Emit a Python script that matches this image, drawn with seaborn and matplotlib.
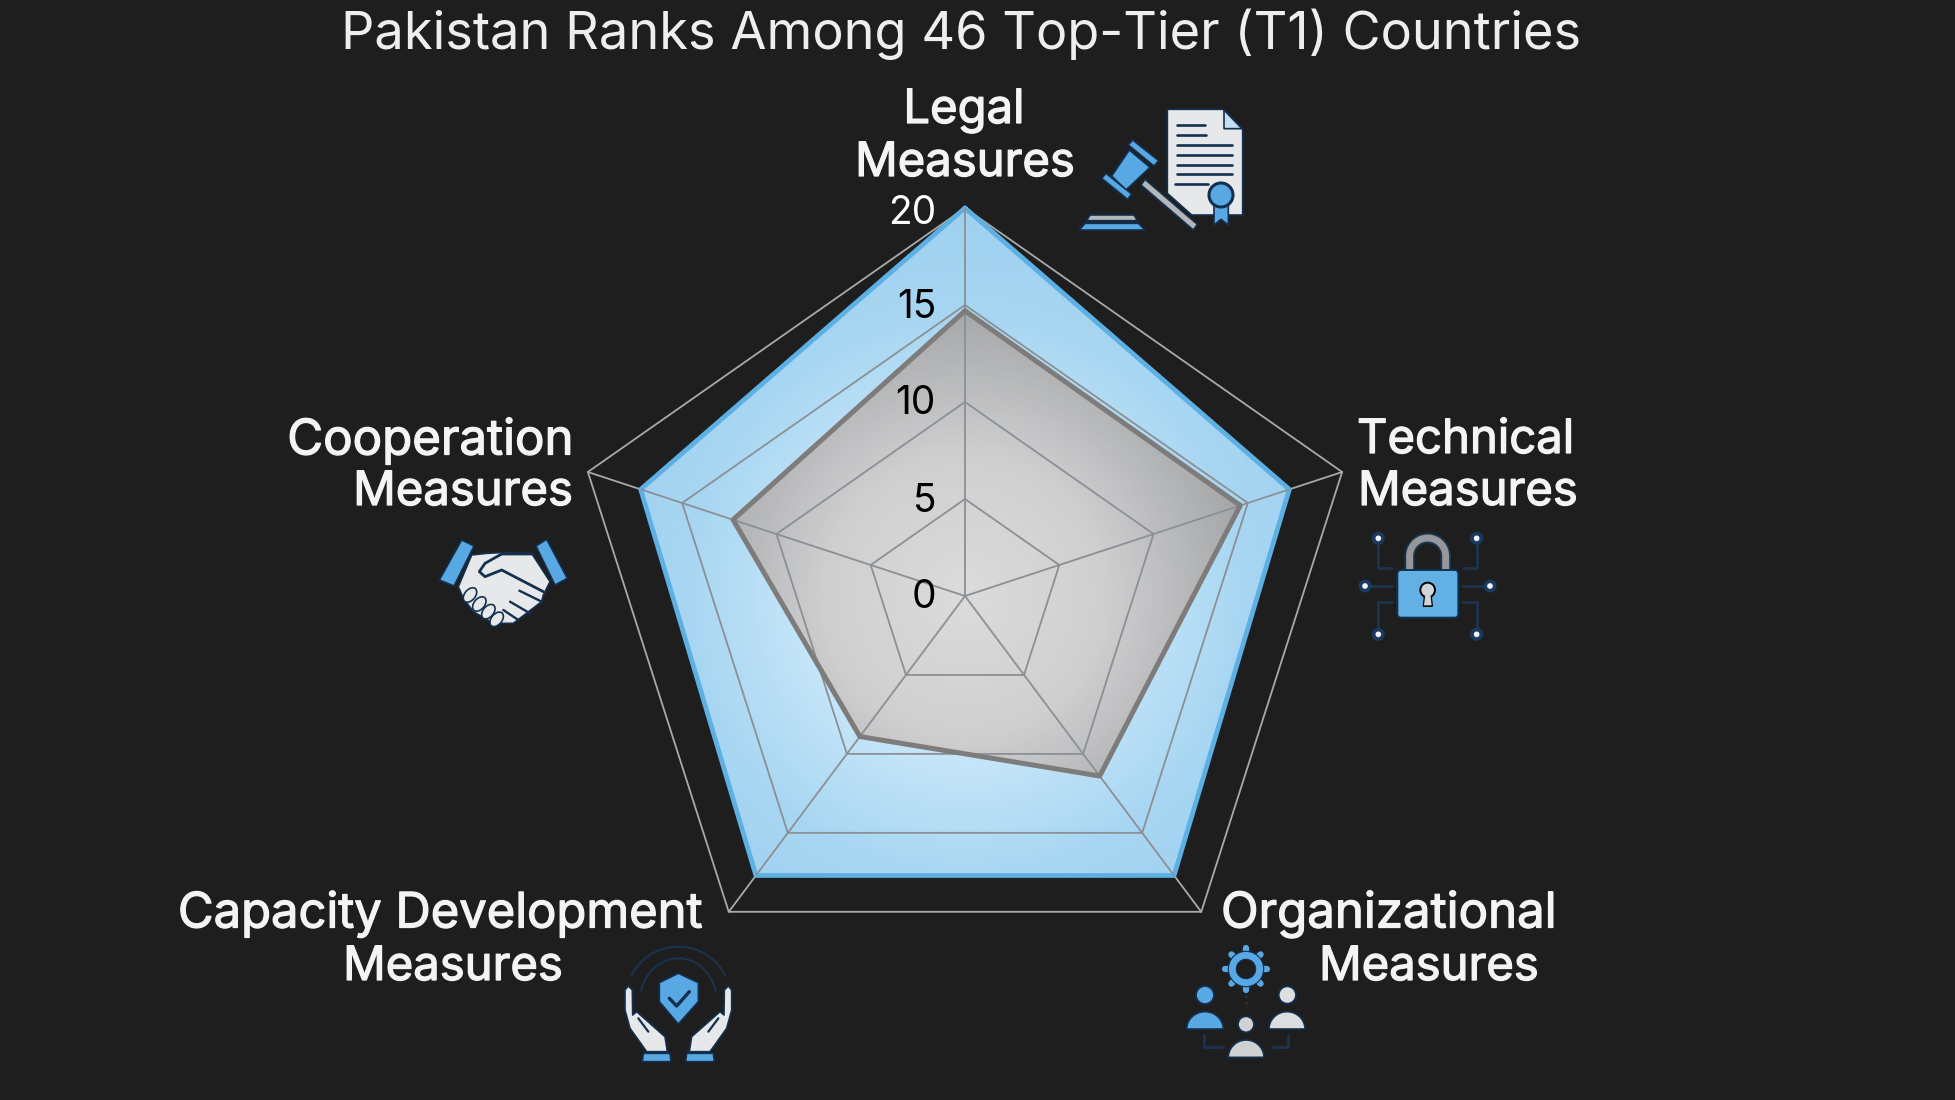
import numpy as np
import pandas as pd
import seaborn as sns
import matplotlib.pyplot as plt
import matplotlib.patheffects as pe
from matplotlib.colors import LinearSegmentedColormap
from matplotlib.patches import Circle, Ellipse, FancyBboxPatch, Polygon, Wedge

# values
categories = ['Legal Measures', 'Technical Measures', 'Organizational Measures',
              'Capacity Development Measures', 'Cooperation Measures']
t1_values = [20.0, 17.2, 17.7, 17.7, 17.2]
pakistan_values = [14.7, 14.6, 11.4, 8.9, 12.3]
scale_ticks = [0, 5, 10, 15, 20]

# the pentagon in the picture is not quite regular
spoke_deg = [90, 18.2, -53.2, -126.8, 161.8]
spoke_len = [0.97, 0.9925, 0.986, 0.986, 0.9925]

BG = '#1e1e1f'
NAVY = '#14304f'
BLUE = '#57a8e3'
WHITE = '#e6e8ea'
GREY = '#b4b6b8'
FONT = 'Inter'

sns.set_theme(style='dark')
plt.rcParams['font.family'] = [FONT, 'Noto Sans', 'DejaVu Sans']

fig = plt.figure(figsize=(19.56, 11), dpi=100, facecolor=BG)
W, H = 1956, 1100
cx, cy, rad = 965, 596, 420
ax = fig.add_axes([(cx - rad) / W, (H - cy - rad) / H, 2 * rad / W, 2 * rad / H], polar=True)
ax.patch.set_alpha(0)
ov = fig.add_axes([0, 0, 1, 1])
ov.set_xlim(0, W)
ov.set_ylim(H, 0)
ov.axis('off')


def loop(values):
    # closed ring in polar coords, each spoke stretched by its own length
    th = np.deg2rad(spoke_deg + spoke_deg[:1])
    r = np.array(list(values) + list(values[:1])) * np.array(spoke_len + spoke_len[:1])
    return pd.DataFrame({'theta': th, 'r': r})


def draw_line(df, color, lw, z):
    sns.lineplot(data=df, x='theta', y='r', sort=False, estimator=None, color=color,
                 linewidth=lw, ax=ax, zorder=z, legend=False)
    return ax.lines[-1]


def draw_grid(color, lw, z, clip=None):
    drawn = []
    for t in scale_ticks[1:]:
        drawn.append(draw_line(loop([t] * 5), color, lw, z))
    for a, s in zip(spoke_deg, spoke_len):
        spoke = pd.DataFrame({'theta': np.deg2rad([a, a]), 'r': [0, 20 * s]})
        drawn.append(draw_line(spoke, color, lw, z))
    if clip is not None:
        for ln in drawn:
            ln.set_clip_path(clip)


def shaded_fill(values, colors, z):
    df = loop(values)
    patch = Polygon(np.c_[df['theta'], df['r']], closed=True, fc='none', ec='none',
                    transform=ax.transData)
    ax.add_patch(patch)
    th, rr = np.meshgrid(np.linspace(0, 2 * np.pi, 121), np.linspace(0, 21, 43))
    cmap = LinearSegmentedColormap.from_list('shade', colors)
    mesh = ax.pcolormesh(th, rr, rr, cmap=cmap, shading='gouraud', zorder=z, vmin=0, vmax=21)
    mesh.set_clip_path(patch)
    return patch


# outer part of the grid, over the dark background
draw_grid('#a9a9a9', 1.3, 1)
blue_patch = shaded_fill(t1_values, ['#cfeafb', '#cbe8fa', '#a8d6f2', '#9bcfee'], 2)
shaded_fill(pakistan_values, ['#dcdcdc', '#cfcfd0', '#a6a8aa', '#9ea0a2'], 4)
draw_grid('#8b9094', 1.3, 5, clip=blue_patch)
draw_line(loop(t1_values), '#5cb0e4', 3.4, 3)
draw_line(loop(pakistan_values), '#7d7c7b', 3.6, 6)

for t in scale_ticks:
    ax.annotate(str(t), (np.deg2rad(90), t * spoke_len[0]), xytext=(-29, -5 if t == 20 else -2),
                textcoords='offset pixels', ha='right', va='center', fontsize=28,
                color='white' if t == 20 else 'black', zorder=8)
ax.set_rlim(0, 21)
ax.axis('off')

# text, in picture pixels on the overlay
ov.text(961, 34, 'Pakistan Ranks Among 46 Top-Tier (T1) Countries', ha='center', va='center',
        fontsize=37.7, color='#eeeeee')
label_lines = [('Legal', 964, 111, 'center', 34), ('Measures', 965, 164, 'center', 34),
               ('Technical', 1357, 441, 'left', 34), ('Measures', 1358, 493, 'left', 34),
               ('Organizational', 1221, 914, 'left', 35.4), ('Measures', 1319, 968, 'left', 34),
               ('Capacity Development', 440, 914, 'center', 35.2), ('Measures', 453, 968, 'center', 34),
               ('Cooperation', 573, 441, 'right', 35.4), ('Measures', 573, 493, 'right', 34)]
for txt, x, y, ha, size in label_lines:
    ov.text(x, y, txt, ha=ha, va='center', fontsize=size, color='#f4f4f4',
            path_effects=[pe.withStroke(linewidth=0.9, foreground='#f4f4f4')])


# icons, coordinates are in 3x crop pixels from an origin
def pts(o, p):
    return [(o[0] + x / 3, o[1] + y / 3) for x, y in p]


def poly(o, p, fc, ec=NAVY, lw=1.2, z=3):
    ov.add_patch(Polygon(pts(o, p), closed=True, fc=fc, ec=ec, lw=lw, joinstyle='round', zorder=z))


def stroke(o, p, color=NAVY, lw=1.3, z=4, ls='-'):
    q = np.array(pts(o, p))
    ov.plot(q[:, 0], q[:, 1], color=color, lw=lw, zorder=z, ls=ls, solid_capstyle='round')


def disc(o, c, r, fc, ec=NAVY, lw=1.3, z=4):
    x, y = pts(o, [c])[0]
    ov.add_patch(Circle((x, y), r / 3, fc=fc, ec=ec, lw=lw, zorder=z))


def dome(o, x0, x1, base, top, fc):
    # head-and-shoulders body
    a = np.linspace(np.pi, 2 * np.pi, 30)
    xs = (x0 + x1) / 2 + (x1 - x0) / 2 * np.cos(a)
    ys = base + (base - top) * np.sin(a)
    poly(o, list(zip(xs, ys)), fc)


# legal
o = (1060, 90)
poly(o, [(322, 58), (490, 58), (548, 118), (548, 375), (395, 375), (322, 310)], WHITE)
poly(o, [(492, 60), (546, 116), (492, 116)], '#c5def0', lw=1.2)
for x0, x1, y in [(350, 435, 105), (350, 437, 135), (350, 515, 165), (350, 515, 195),
                  (350, 515, 224), (350, 515, 253), (346, 443, 282)]:
    stroke(o, [(x0, y), (x1, y)], lw=1.9)
poly(o, [(462, 345), (505, 345), (505, 405), (483, 388), (462, 405)], BLUE)
disc(o, (483, 315), 36, BLUE, lw=2.2)
poly(o, [(255, 268), (412, 403), (400, 420), (243, 285)], GREY)
poly(o, [(208, 180), (270, 232), (198, 300), (155, 258)], BLUE)
poly(o, [(218, 150), (296, 212), (282, 228), (205, 165)], BLUE)
poly(o, [(138, 250), (215, 312), (203, 328), (125, 265)], BLUE)
poly(o, [(80, 392), (90, 375), (222, 375), (232, 392)], GREY)
poly(o, [(58, 420), (75, 400), (235, 400), (255, 420)], BLUE)

# technical
o = (1340, 520)
for p in [[(115, 55), (115, 145), (155, 145)], [(75, 198), (155, 198)],
          [(115, 343), (115, 247), (155, 247)], [(410, 55), (410, 145), (368, 145)],
          [(450, 198), (368, 198)], [(410, 343), (410, 247), (368, 247)]]:
    stroke(o, p, color='#1c3553', lw=1.8)
for c in [(115, 55), (75, 198), (115, 343), (410, 55), (450, 198), (410, 343)]:
    disc(o, c, 14, '#f2f6fb', ec='#1a3a60', lw=2.6)
a = np.linspace(np.pi, 2 * np.pi, 30)
shackle = [(209, 145)] + list(zip(263 + 54 * np.cos(a), 108 + 54 * np.sin(a))) + [(317, 145)]
stroke(o, shackle, color='#1c3553', lw=7.5, z=3)
stroke(o, shackle, color='#95979a', lw=5.0, z=3)
x0, y0 = pts(o, [(172, 150)])[0]
ov.add_patch(FancyBboxPatch((x0 + 4, y0 + 4), 183 / 3 - 8, 143 / 3 - 8,
                            boxstyle='round,pad=4', fc='#62b0e4', ec=NAVY, lw=1.4, zorder=4))
poly(o, [(255, 222), (272, 222), (276, 258), (251, 258)], '#d0d4d8', ec='black', lw=1.4, z=5)
disc(o, (263, 210), 22, '#d0d4d8', ec='black', lw=1.4, z=5)
poly(o, [(256, 222), (271, 222), (275, 256), (252, 256)], '#d0d4d8', ec='none', lw=0, z=6)

# organizational
o = (1170, 930)
gx, gy = pts(o, [(228, 117)])[0]
for deg in range(0, 360, 45):
    c, s = np.cos(np.deg2rad(deg)), np.sin(np.deg2rad(deg))
    stroke(o, [(228 + 45 * c, 117 + 45 * s), (228 + 62 * c, 117 + 62 * s)], color=BLUE, lw=4.5, z=3)
ov.add_patch(Wedge((gx, gy), 53 / 3, 0, 360, width=24 / 3, fc=BLUE, ec=NAVY, lw=0.8, zorder=4))
stroke(o, [(228, 195), (228, 235)], color='#1c3553', lw=1.8, ls=':')
stroke(o, [(102, 315), (102, 352), (160, 352)], color='#1c3553', lw=1.8)
stroke(o, [(353, 315), (353, 352), (305, 352)], color='#1c3553', lw=1.8)
disc(o, (105, 195), 27, BLUE)
dome(o, 50, 160, 297, 245, BLUE)
disc(o, (352, 195), 26, '#dcdee0')
dome(o, 297, 405, 297, 245, '#dcdee0')
disc(o, (228, 283), 24, '#cfd1d3')
dome(o, 175, 282, 382, 330, '#cfd1d3')

# capacity development
o = (610, 930)
a1 = np.deg2rad(np.linspace(195, 345, 40))
stroke(o, list(zip(205 + 115 * np.cos(a1), 215 + 130 * np.sin(a1))), color='#1a3350', lw=1.5, z=2)
a2 = np.deg2rad(np.linspace(205, 335, 40))
stroke(o, list(zip(205 + 155 * np.cos(a2), 200 + 150 * np.sin(a2))), color='#1a3350', lw=1.5, z=2)
poly(o, [(148, 158), (205, 130), (265, 158), (265, 215), (205, 282), (148, 215)], BLUE)
stroke(o, [(178, 205), (200, 228), (238, 185)], lw=2.4)
left_hand = [(45, 180), (55, 168), (67, 180), (68, 255), (80, 245), (165, 320), (172, 365),
             (110, 365), (60, 295), (45, 240)]
poly(o, left_hand, WHITE)
poly(o, [(410 - x, y) for x, y in left_hand], WHITE)
stroke(o, [(85, 265), (115, 305)], lw=1.6)
stroke(o, [(325, 265), (295, 305)], lw=1.6)
poly(o, [(100, 370), (180, 370), (183, 395), (97, 395)], BLUE)
poly(o, [(310, 370), (230, 370), (227, 395), (313, 395)], BLUE)

# cooperation
o = (430, 530)
poly(o, [(95, 30), (132, 48), (72, 168), (28, 150)], BLUE)
poly(o, [(350, 28), (318, 48), (375, 165), (412, 145)], BLUE)
poly(o, [(125, 75), (170, 70), (210, 68), (305, 70), (360, 155), (340, 195), (335, 215),
         (250, 280), (225, 280), (190, 280), (130, 245), (100, 205), (85, 170)], WHITE)
for (x, y) in [(120, 195), (148, 222), (175, 245), (200, 268)]:
    ex, ey = pts(o, [(x, y)])[0]
    ov.add_patch(Ellipse((ex, ey), 50 / 3, 32 / 3, angle=-50, fc=WHITE, ec=NAVY, lw=1.2, zorder=5))
stroke(o, [(310, 72), (215, 72), (165, 100), (148, 125), (165, 140), (215, 120), (340, 185)], lw=2.0)
stroke(o, [(268, 182), (335, 215)], lw=1.7)
stroke(o, [(240, 215), (300, 250)], lw=1.7)
stroke(o, [(220, 240), (265, 270)], lw=1.7)

fig.savefig('out.png', dpi=100, facecolor=BG)
